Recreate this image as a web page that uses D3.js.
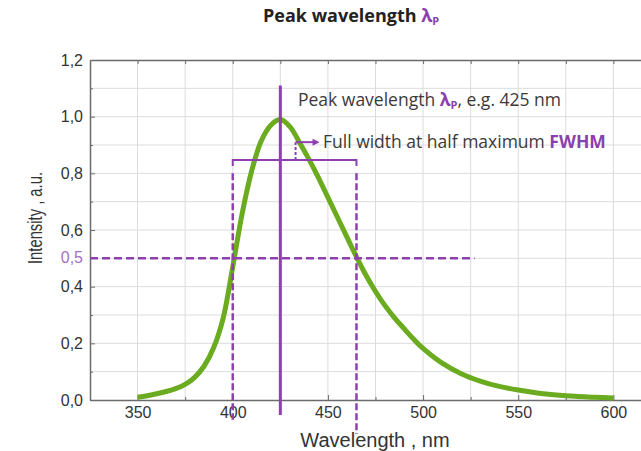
<!DOCTYPE html>
<html lang="en">
  <head>
    <meta charset="utf-8">
    <title>Peak wavelength</title>
    <script src="https://cdn.jsdelivr.net/npm/d3@7"></script>
    <style>
		body{ margin:0; background:#fff; }
		svg{ display:block; }
		.grid line{ stroke:#dcdcdc; stroke-width:1; }
		.axis path, .axis line{ stroke:#6b6b6b; }
		.axis text{ font-family:"Liberation Sans", Arial, sans-serif; font-size:16px; fill:#333; }
		.title{ font-family:"Open Sans", sans-serif; font-weight:bold; font-size:18px; fill:#222; }
		.note{ font-family:"Open Sans", sans-serif; font-size:17.5px; fill:#3a3a3a; }
		.lbl{ font-family:"Liberation Sans", Arial, sans-serif; font-size:20px; fill:#333; }
		.purple{ fill:#8a3fae; }
		.spectrum{ fill:none; stroke:#6aab1f; stroke-width:5; stroke-linejoin:round; }
		.mark{ stroke:#8e3fb0; fill:none; }
    </style>
  </head>
  <body>
	<div id="chart"></div>
	<script>

		// emission spectrum
		var wavelength = [350,355,360,365,370,375,380,385,390,395,400,405,410,415,420,425,430,435,440,445,450,455,460,465,470,475,480,485,490,495,500,510,520,530,540,550,560,570,580,590,600];
		var intensity  = [0.01,0.015,0.022,0.03,0.04,0.055,0.08,0.12,0.185,0.29,0.47,0.66,0.81,0.915,0.97,0.99,0.965,0.91,0.85,0.785,0.715,0.645,0.575,0.505,0.44,0.383,0.333,0.29,0.252,0.215,0.182,0.13,0.093,0.067,0.048,0.035,0.025,0.018,0.013,0.01,0.007];

		var xTicks = [350,400,450,500,550,600];
		var yTicks = [0,0.2,0.4,0.6,0.8,1.0,1.2];

		var peak = 425,
			halfLeft = 400,
			halfRight = 465,
			halfMax = 0.5,
			halfLineEnd = 527;

		var width = 641, height = 451;
		var svg = d3.select('#chart').append('svg').attr('width', width).attr('height', height);

		var x = d3.scaleLinear().domain([325, 625]).range([90, 661]);
		var y = d3.scaleLinear().domain([0, 1.2]).range([400, 60]);
		var fmt = function(d){ return d3.format('.1f')(d).replace('.', ','); };

		// grid
		var grid = svg.append('g').attr('class', 'grid');
		grid.selectAll('line.v').data(d3.range(350, 626, 25)).enter().append('line')
			.attr('x1', x).attr('x2', x).attr('y1', y(0)).attr('y2', y(1.2));
		grid.selectAll('line.h').data(d3.range(1, 12)).enter().append('line')
			.attr('x1', x(325)).attr('x2', x(625))
			.attr('y1', function(d){ return y(d/10); }).attr('y2', function(d){ return y(d/10); });

		// axes (ticks pointing inward, like the original)
		var bottomAxis = svg.append('g').attr('class', 'axis').attr('transform', 'translate(0,' + y(0) + ')')
			.call(d3.axisBottom(x).tickValues(xTicks).tickSizeInner(-5).tickSizeOuter(0).tickPadding(7));
		bottomAxis.select('.domain').attr('stroke-width', 1.5);
		svg.append('g').attr('class', 'axis').attr('transform', 'translate(0,' + y(0) + ')')
			.call(d3.axisBottom(x).tickValues(d3.range(375, 600, 50)).tickSize(-3).tickFormat(''))
			.select('.domain').remove();

		var topAxis = svg.append('g').attr('class', 'axis').attr('transform', 'translate(0,' + y(1.2) + ')')
			.call(d3.axisTop(x).tickValues(d3.range(350, 626, 25)).tickSize(-4).tickSizeOuter(0).tickFormat(''));
		topAxis.select('.domain').attr('stroke-width', 1.5);

		var leftAxis = svg.append('g').attr('class', 'axis').attr('transform', 'translate(' + x(325) + ',0)')
			.call(d3.axisLeft(y).tickValues(yTicks).tickSizeInner(-5).tickSizeOuter(0).tickPadding(7).tickFormat(fmt));
		leftAxis.select('.domain').attr('stroke-width', 1.5);
		svg.append('g').attr('class', 'axis').attr('transform', 'translate(' + x(325) + ',0)')
			.call(d3.axisLeft(y).tickValues([0.1,0.3,0.7,0.9,1.1]).tickSize(-3).tickFormat(''))
			.select('.domain').remove();

		svg.append('text').attr('class', 'lbl')
			.attr('x', x(325) - 7).attr('y', y(halfMax)).attr('dy', '0.32em')
			.attr('text-anchor', 'end').style('font-size', '16px').style('fill', '#a36fc6')
			.text(fmt(halfMax));

		// spectrum
		var line = d3.line().curve(d3.curveCatmullRom)
			.x(function(d){ return x(d[0]); })
			.y(function(d){ return y(d[1]); });
		svg.append('path').attr('class', 'spectrum')
			.datum(d3.zip(wavelength, intensity)).attr('d', line);

		// half maximum guides
		var marks = svg.append('g').attr('class', 'mark');
		marks.append('line')
			.attr('x1', x(325)).attr('x2', x(halfLineEnd)).attr('y1', y(halfMax)).attr('y2', y(halfMax))
			.attr('stroke-width', 2.5).attr('stroke-dasharray', '8,4');
		marks.append('line')
			.attr('x1', x(halfLeft)).attr('x2', x(halfLeft)).attr('y1', y(0.8)).attr('y2', y(-0.07))
			.attr('stroke-width', 2.5).attr('stroke-dasharray', '7,3');
		marks.append('line')
			.attr('x1', x(halfRight)).attr('x2', x(halfRight)).attr('y1', y(0.8)).attr('y2', y(-0.12))
			.attr('stroke-width', 2.5).attr('stroke-dasharray', '7,3');

		// FWHM bracket
		var by = y(0.847);
		marks.append('path')
			.attr('d', 'M' + x(halfLeft) + ',' + (by + 6) + 'V' + by + 'H' + x(halfRight) + 'V' + (by + 6))
			.attr('stroke-width', 2);
		var ax = x(433), ay = y(0.91);
		marks.append('line').attr('x1', ax).attr('x2', ax).attr('y1', by).attr('y2', ay)
			.attr('stroke-width', 2).attr('stroke-dasharray', '3,2');
		marks.append('line').attr('x1', ax).attr('x2', ax + 18).attr('y1', ay).attr('y2', ay)
			.attr('stroke-width', 2);
		marks.append('path').attr('d', 'M' + (ax + 24) + ',' + ay + 'l-7,-3.5v7z')
			.attr('fill', '#8e3fb0').attr('stroke', 'none');

		// peak line
		marks.append('line')
			.attr('x1', x(peak)).attr('x2', x(peak)).attr('y1', y(1.11)).attr('y2', y(-0.053))
			.attr('stroke-width', 3);

		// annotations
		var t1 = svg.append('text').attr('class', 'note').attr('x', 298).attr('y', 106);
		t1.append('tspan').text('Peak wavelength ');
		t1.append('tspan').attr('class', 'purple').style('font-weight', 'bold').text('λ');
		t1.append('tspan').attr('class', 'purple').style('font-weight', 'bold').style('font-size', '11px').attr('dy', 3).text('P');
		t1.append('tspan').attr('dy', -3).text(', e.g. ' + peak + ' nm');

		var t2 = svg.append('text').attr('class', 'note').attr('x', 323).attr('y', 148);
		t2.append('tspan').text('Full width at half maximum ');
		t2.append('tspan').attr('class', 'purple').style('font-weight', 'bold').text('FWHM');

		var title = svg.append('text').attr('class', 'title').attr('x', 263).attr('y', 22);
		title.append('tspan').text('Peak wavelength ');
		title.append('tspan').attr('class', 'purple').text('λ');
		title.append('tspan').attr('class', 'purple').style('font-size', '11px').attr('dy', 3).text('P');

		svg.append('text').attr('class', 'lbl').attr('x', 375).attr('y', 447)
			.attr('text-anchor', 'middle').text('Wavelength , nm');
		svg.append('text').attr('class', 'lbl')
			.attr('transform', 'translate(42,' + 218 + ') rotate(-90) scale(0.74,1)')
			.attr('text-anchor', 'middle').text('Intensity , a.u.');

	</script>
  </body>
</html>
